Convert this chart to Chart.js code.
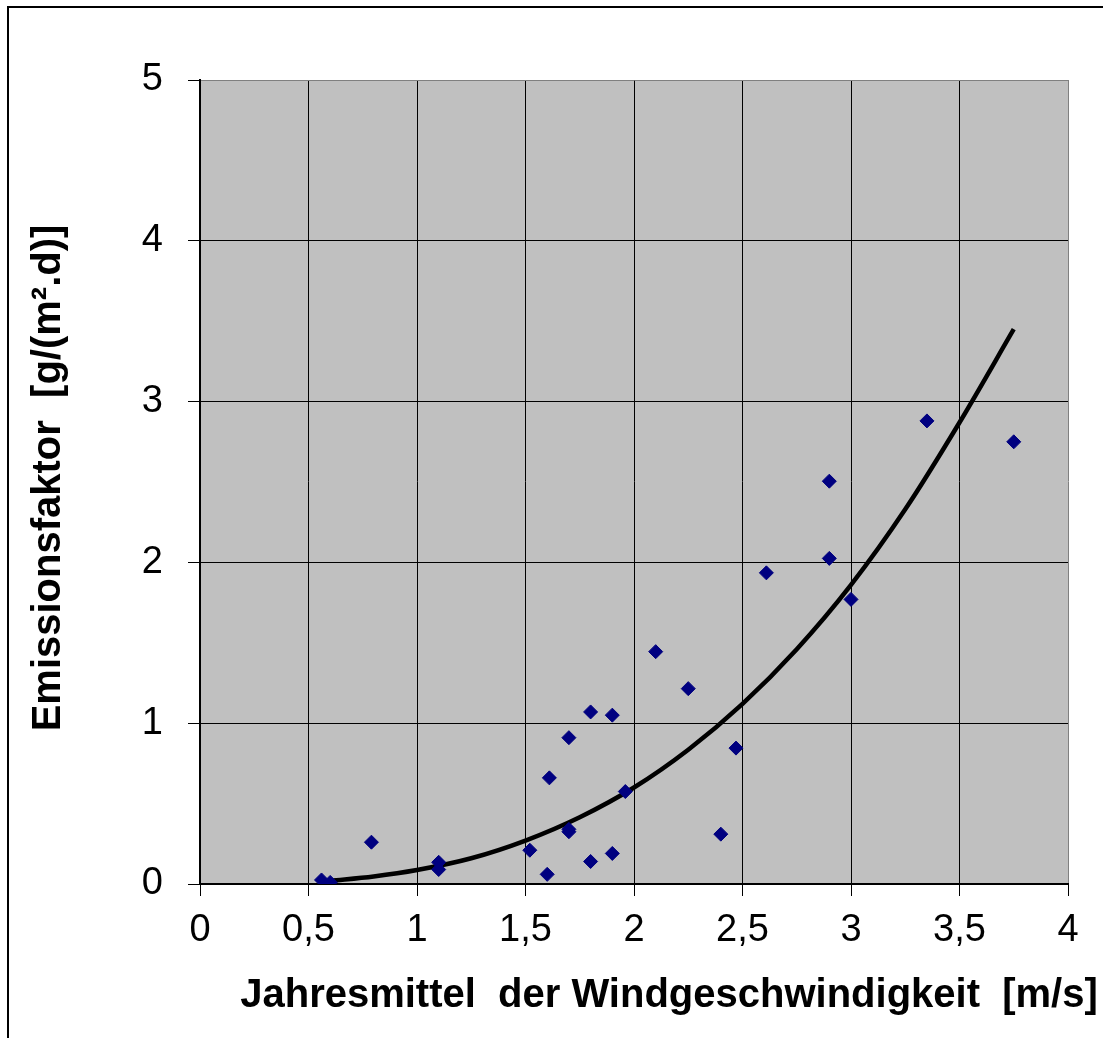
<!DOCTYPE html>
<html>
<head>
<meta charset="utf-8">
<script src="https://cdn.jsdelivr.net/npm/chart.js@4.4.0/dist/chart.umd.min.js"></script>
<style>
  html, body { margin: 0; padding: 0; background: #fff; overflow: hidden; }
  #wrap { position: relative; width: 1103px; height: 1038px; overflow: hidden; }
  #frame { position: absolute; left: 7px; top: 6px; width: 1300px; height: 1300px; border: 2px solid #000; }
  canvas { position: absolute; left: 0; top: 0; }
</style>
</head>
<body>
<div id="wrap">
  <div id="frame"></div>
  <canvas id="myChart" width="1103" height="1038"></canvas>
</div>
<script>
// measured stations: annual mean wind speed vs. emission factor
const windSpeed = [0.56, 0.60, 0.79, 1.10, 1.10, 1.52, 1.60, 1.61, 1.70, 1.70, 1.70, 1.80, 1.80, 1.90, 1.90, 1.96,
  2.10, 2.25, 2.40, 2.47, 2.61, 2.90, 2.90, 3.00, 3.35, 3.75];
const emission = [0.025, 0.01, 0.26, 0.135, 0.09, 0.21, 0.06, 0.66, 0.34, 0.325, 0.91, 0.14, 1.07, 1.05, 0.19, 0.575,
  1.445, 1.215, 0.31, 0.845, 1.935, 2.505, 2.025, 1.77, 2.88, 2.75];

// trend curve
const trendX = [0.6, 0.8, 1.0, 1.25, 1.5, 1.75, 2.0, 2.25, 2.5, 2.75, 3.0, 3.25, 3.5, 3.75];
const trendY = [0.02, 0.047, 0.087, 0.16, 0.27, 0.415, 0.6, 0.835, 1.12, 1.46, 1.86, 2.33, 2.87, 3.45];

const xTickLabels = ["0", "0,5", "1", "1,5", "2", "2,5", "3", "3,5", "4"];
const yTickLabels = ["0", "1", "2", "3", "4", "5"];

const xTitle = "Jahresmittel  der Windgeschwindigkeit  [m/s]";
const yTitle = "Emissionsfaktor  [g/(m\u00b2.d)]";

const toPoints = (xs, ys) => xs.map((x, i) => ({ x: x, y: ys[i] }));

const plotArea = {
  id: "plotArea",
  beforeDraw(chart) {
    const { ctx, chartArea } = chart;
    ctx.save();
    ctx.fillStyle = "#c0c0c0";
    ctx.fillRect(chartArea.left, chartArea.top, chartArea.right - chartArea.left, chartArea.bottom - chartArea.top);
    ctx.restore();
  },
  afterDraw(chart) {
    const ctx = chart.ctx;
    ctx.save();
    ctx.fillStyle = "#000";
    ctx.font = "bold 40px 'Liberation Sans', Arial, sans-serif";
    ctx.textAlign = "center";
    ctx.textBaseline = "alphabetic";
    ctx.fillText(xTitle, 669, 1007);
    ctx.translate(60, 478);
    ctx.rotate(-Math.PI / 2);
    ctx.fillText(yTitle, 0, 0);
    ctx.restore();
  },
};

const edgeColor = (last) => (c) => (c.tick && c.tick.value === last ? "#808080" : "#000");

const chartCanvas = document.getElementById("myChart").getContext("2d");
new Chart(chartCanvas, {
  type: "scatter",
  data: {
    datasets: [
      {
        label: "Messwerte",
        data: toPoints(windSpeed, emission),
        pointStyle: "rectRot",
        pointRadius: 7,
        backgroundColor: "#000080",
        borderColor: "#000080",
        borderWidth: 1,
        order: 0,
      },
      {
        label: "Trend",
        data: toPoints(trendX, trendY),
        showLine: true,
        borderColor: "#000",
        borderWidth: 4.5,
        pointRadius: 0,
        tension: 0.4,
        cubicInterpolationMode: "monotone",
        order: 1,
      },
    ],
  },
  options: {
    responsive: false,
    animation: false,
    layout: { padding: { top: 80, right: 35, bottom: 0, left: 0 } },
    plugins: { legend: { display: false }, tooltip: { enabled: false } },
    scales: {
      x: {
        type: "linear",
        min: 0,
        max: 4,
        afterFit: (scale) => { scale.height = 154; },
        ticks: {
          stepSize: 0.5,
          padding: 12,
          color: "#000",
          font: { family: "'Liberation Sans', Arial, sans-serif", size: 38 },
          maxRotation: 0,
          callback: (v, i) => xTickLabels[i],
        },
        grid: { color: edgeColor(4), tickColor: "#000", lineWidth: 1, tickLength: 12 },
        border: { display: true, color: "#000", width: 2 },
      },
      y: {
        min: 0,
        max: 5,
        afterFit: (scale) => { scale.width = 200; },
        ticks: {
          stepSize: 1,
          padding: 25,
          color: "#000",
          font: { family: "'Liberation Sans', Arial, sans-serif", size: 38 },
          callback: (v, i) => yTickLabels[i],
        },
        grid: { color: edgeColor(5), tickColor: "#000", lineWidth: 1, tickLength: 12 },
        border: { display: true, color: "#000", width: 2 },
      },
    },
  },
  plugins: [plotArea],
});
</script>
</body>
</html>
